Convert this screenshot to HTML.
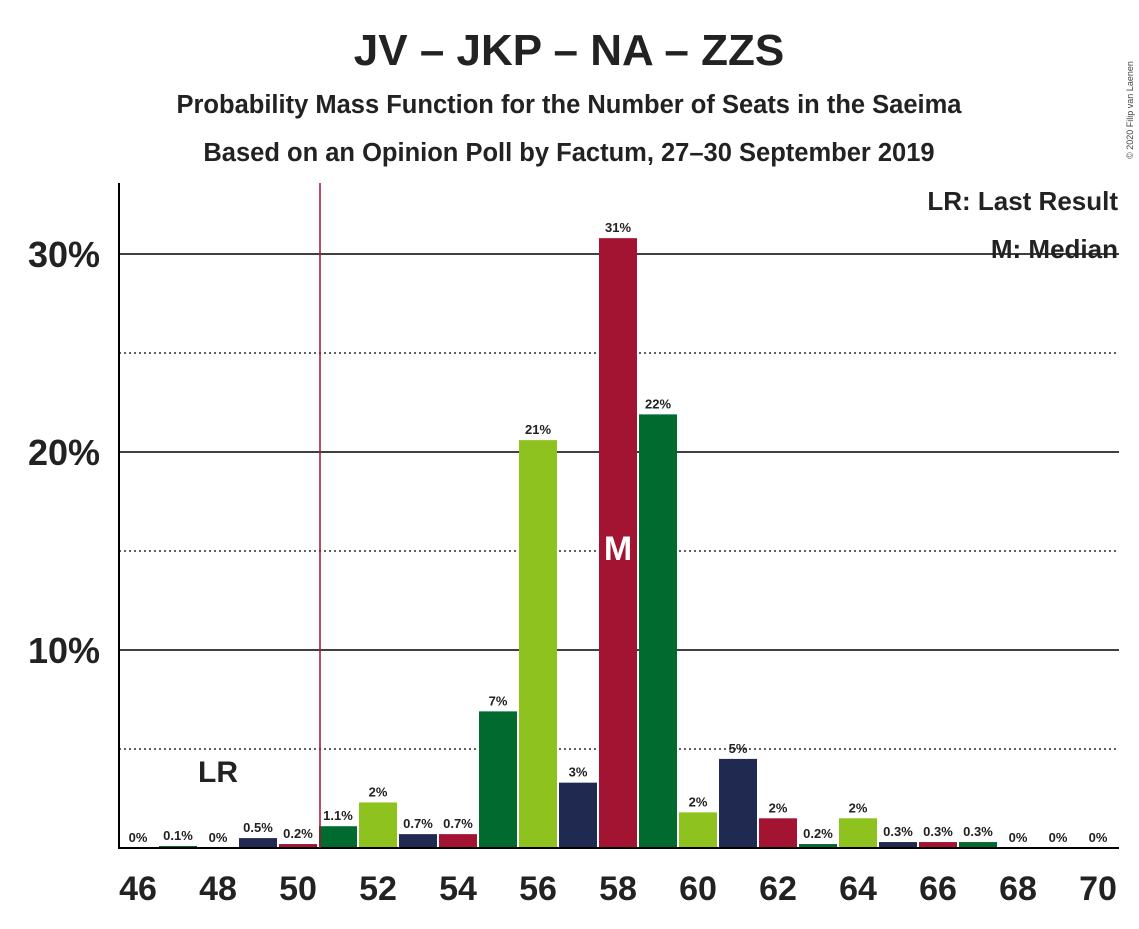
<!DOCTYPE html>
<html><head><meta charset="utf-8"><style>
body{margin:0;background:#fff;font-family:"Liberation Sans",sans-serif}
</style></head><body>
<svg id="chart" width="1139" height="924" xmlns="http://www.w3.org/2000/svg" font-family="Liberation Sans, sans-serif">
<text x="569" y="65" text-anchor="middle" font-size="44" font-weight="bold" fill="#222">JV – JKP – NA – ZZS</text>
<text x="569" y="113" text-anchor="middle" font-size="25.5" font-weight="bold" fill="#222">Probability Mass Function for the Number of Seats in the Saeima</text>
<text x="569" y="161" text-anchor="middle" font-size="25.5" font-weight="bold" fill="#222">Based on an Opinion Poll by Factum, 27–30 September 2019</text>
<text x="1133" y="110" font-size="9" fill="#444" transform="rotate(-90 1133 110)" text-anchor="middle">© 2020 Filip van Laenen</text>
<g id="grid"></g>
<g id="bars"></g>
<g id="labels"></g>
<line x1="119" y1="183" x2="119" y2="849" stroke="#000" stroke-width="2"/>
<line x1="118" y1="848" x2="1119" y2="848" stroke="#000" stroke-width="2"/>
<line x1="320" y1="183" x2="320" y2="848" stroke="#a31332" stroke-width="1.5"/>
<text x="218" y="782" text-anchor="middle" font-size="30" font-weight="bold" fill="#222">LR</text>
<text x="1118" y="210" text-anchor="end" font-size="26" font-weight="bold" fill="#222">LR: Last Result</text>
<text x="1118" y="258" text-anchor="end" font-size="26" font-weight="bold" fill="#222">M: Median</text>
</svg>
<script>
const seats=[46,47,48,49,50,51,52,53,54,55,56,57,58,59,60,61,62,63,64,65,66,67,68,69,70];
const probs=[0,0.1,0,0.5,0.2,1.1,2.3,0.7,0.7,6.9,20.6,3.3,30.8,21.9,1.8,4.5,1.5,0.2,1.5,0.3,0.3,0.3,0,0,0];
const printed=["0%","0.1%","0%","0.5%","0.2%","1.1%","2%","0.7%","0.7%","7%","21%","3%","31%","22%","2%","5%","2%","0.2%","2%","0.3%","0.3%","0.3%","0%","0%","0%"];
const yTicks=[10,20,30];
const yTickLabels=["10%","20%","30%"];
const dotted=[5,15,25];
const medianSeat=58;
const NS="http://www.w3.org/2000/svg";
const x=s=>138+(s-46)*40;
const y=v=>848-v*19.8;
const colors=["#8dc21f","#20294f","#a31332","#006a2f"];
function mk(t,a,p){const e=document.createElementNS(NS,t);for(const k in a)e.setAttribute(k,a[k]);p.appendChild(e);return e;}
const g=document.getElementById('grid'),b=document.getElementById('bars'),l=document.getElementById('labels');
dotted.forEach(v=>{const e=mk('line',{x1:119,x2:1119,y1:y(v),y2:y(v),stroke:'#000','stroke-width':1.3,'stroke-dasharray':'2,3'},g);

});
yTicks.forEach((v,i)=>{const e=mk('line',{x1:119,x2:1119,y1:y(v),y2:y(v),stroke:'#000','stroke-width':1.5},g);


const t=mk('text',{x:100,y:y(v)+13,'text-anchor':'end','font-size':36,'font-weight':'bold',fill:'#222'},g);t.textContent=yTickLabels[i];

});
seats.forEach((s,i)=>{
 if(probs[i]>0){const r=mk('rect',{x:x(s)-19,y:y(probs[i]),width:38,height:848-y(probs[i]),fill:colors[s%4]},b);
 
 }
 const t=mk('text',{x:x(s),y:y(probs[i])-6,'text-anchor':'middle','font-size':13,'font-weight':'bold',fill:'#222'},l);t.textContent=printed[i];
 
 
 if(s%2===0){const xt=mk('text',{x:x(s),y:900,'text-anchor':'middle','font-size':34,'font-weight':'bold',fill:'#222'},l);xt.textContent=s;
 
 }
 if(s===medianSeat){const m=mk('text',{x:x(s),y:560,'text-anchor':'middle','font-size':34,'font-weight':'bold',fill:'#fff'},l);m.textContent='M';
 
 }
});
</script>
</body></html>
